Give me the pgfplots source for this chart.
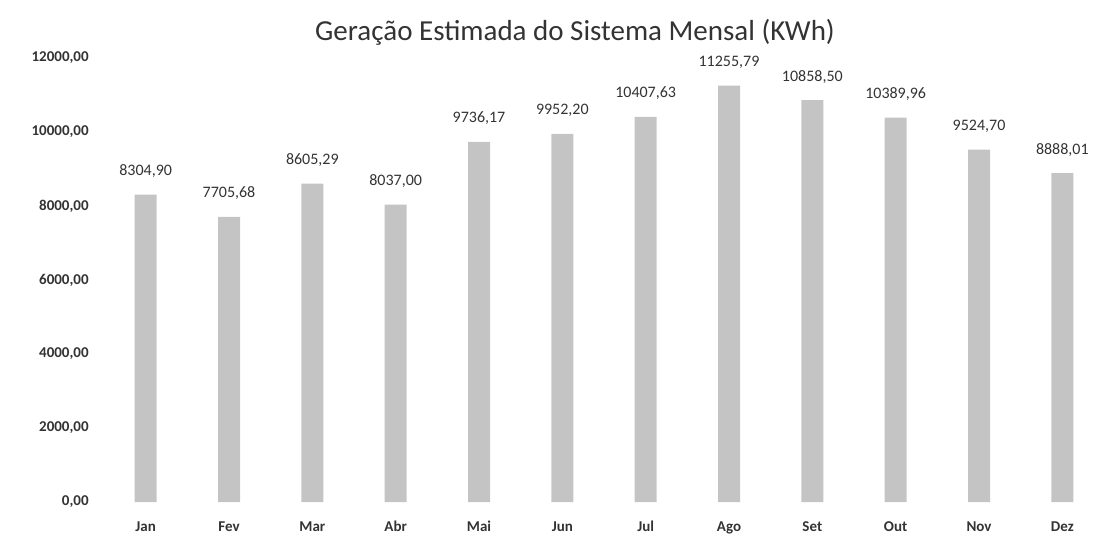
\documentclass[border=0pt]{standalone}
\usepackage{pgfplots}
\pgfplotsset{compat=1.18}
\usepackage{pgfplotstable}
\usepackage{fontspec}
\setmainfont{Carlito}
\definecolor{bargray}{RGB}{196,196,196}
\pgfplotstableread{
x y lab
0 8304.90 8304,90
1 7705.68 7705,68
2 8605.29 8605,29
3 8037.00 8037,00
4 9736.17 9736,17
5 9952.20 9952,20
6 10407.63 10407,63
7 11255.79 11255,79
8 10858.50 10858,50
9 10389.96 10389,96
10 9524.70 9524,70
11 8888.01 8888,01
}\datatable
\begin{document}
\begin{tikzpicture}
\path[use as bounding box] (-52pt,-18pt) rectangle (496pt,251pt);
\begin{axis}[
  scale only axis,
  width=495pt, height=222pt,
  xmin=-0.5, xmax=11.38,
  ymin=0, ymax=12000,
  scaled ticks=false,
  axis lines=left,
  axis line style={draw=none},
  xtick=data,
  xticklabels={Jan,Fev,Mar,Abr,Mai,Jun,Jul,Ago,Set,Out,Nov,Dez},
  ytick={0,2000,4000,6000,8000,10000,12000},
  yticklabels={{0,00},{2000,00},{4000,00},{6000,00},{8000,00},{10000,00},{12000,00}},
  tick style={draw=none},
  ticklabel style={font=\fontsize{7.5}{8}\selectfont\bfseries, text=black!80},
  xticklabel style={yshift=-4pt},
  yticklabel style={xshift=-2pt},
  title={Geração Estimada do Sistema Mensal (KWh)},
  title style={font=\fontsize{14.5}{16}\selectfont, text=black!80, yshift=-3pt, xshift=-12pt},
  clip=false,
]
\addplot[ybar, bar width=11pt, fill=bargray, draw=none,
  point meta=explicit symbolic,
  nodes near coords,
  nodes near coords style={font=\fontsize{8}{9}\selectfont, text=black!80, yshift=5pt}]
  table[x=x, y=y, meta=lab] {\datatable};
\end{axis}
\end{tikzpicture}
\end{document}
